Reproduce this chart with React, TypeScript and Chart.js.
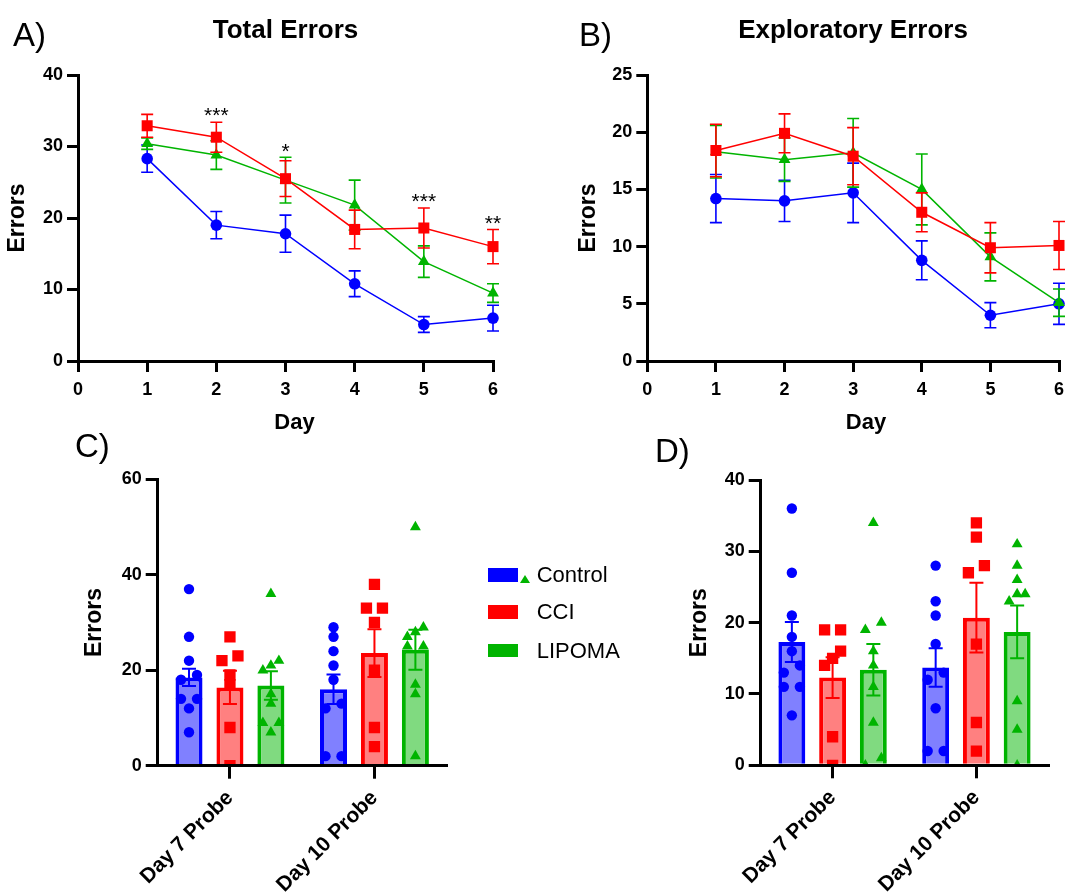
import React, { useEffect, useRef } from 'react';
import { Chart, registerables, PointElement } from 'chart.js';

Chart.register(...registerables);

const FONT = "'Liberation Sans', Arial, Helvetica, sans-serif";
Chart.defaults.font.family = FONT;
Chart.defaults.color = '#000';

// ---------------- data ----------------
const groupNames = ['Control', 'CCI', 'LIPOMA'];
const days = [1, 2, 3, 4, 5, 6];

// A) Total errors (mean, SEM)
const totalControl = [28.3, 19.0, 17.8, 10.8, 5.1, 6.0];
const totalControlSem = [1.9, 1.9, 2.6, 1.8, 1.1, 1.8];
const totalCCI = [32.9, 31.3, 25.5, 18.4, 18.6, 16.0];
const totalCCISem = [1.6, 2.1, 2.5, 2.7, 2.8, 2.4];
const totalLipoma = [30.4, 28.8, 25.3, 21.8, 13.9, 9.5];
const totalLipomaSem = [0.8, 2.0, 3.2, 3.5, 2.2, 1.3];
const totalSig = ['', '***', '*', '', '***', '**'];

// B) Exploratory errors (mean, SEM)
const explControl = [14.2, 14.0, 14.7, 8.8, 4.0, 5.0];
const explControlSem = [2.1, 1.8, 2.6, 1.7, 1.1, 1.8];
const explCCI = [18.4, 19.9, 17.9, 13.0, 9.9, 10.1];
const explCCISem = [2.3, 1.7, 2.5, 1.7, 2.2, 2.1];
const explLipoma = [18.3, 17.6, 18.2, 15.0, 9.1, 5.1];
const explLipomaSem = [2.3, 1.9, 3.0, 3.1, 2.1, 1.2];

// C / D) probe trials
const probeLabels = ['Day 7 Probe', 'Day 10 Probe'];

const cMeanControl = [18.5, 16.0];
const cSemControl = [1.8, 3.1];
const cMeanCCI = [16.4, 23.6];
const cSemCCI = [3.5, 5.0];
const cMeanLipoma = [16.8, 24.3];
const cSemLipoma = [3.0, 4.2];
const c7Control = [37, 27, 22, 19, 18, 14, 14, 12, 7];
const c7CCI = [27, 23, 22, 19, 17, 8, 0];
const c7Lipoma = [36, 22, 21, 20, 15, 13, 9, 9, 7];
const c10Control = [29, 27, 24, 21, 18, 13, 12, 2, 2];
const c10CCI = [38, 33, 33, 30, 20, 8, 4];
const c10Lipoma = [50, 29, 28, 27, 25, 25, 17, 15, 2];

const dMeanControl = [17.3, 13.7];
const dSemControl = [2.8, 2.7];
const dMeanCCI = [12.3, 20.7];
const dSemCCI = [2.85, 4.9];
const dMeanLipoma = [13.4, 18.7];
const dSemLipoma = [3.6, 3.7];
const d7Control = [36, 27, 21, 18, 16, 14, 13, 11, 11, 7];
const d7CCI = [19, 19, 16, 15, 14, 4, 0];
const d7Lipoma = [34, 20, 19, 16, 14, 11, 6, 1, 0];
const d10Control = [28, 23, 21, 17, 13, 12, 8, 2, 2];
const d10CCI = [34, 32, 28, 27, 17, 6, 2];
const d10Lipoma = [31, 28, 26, 24, 24, 23, 9, 5, 0];

// ---------------- styles ----------------
const BLUE = '#0000FF';
const RED = '#FF0000';
const GREEN = '#00B400';
const COLORS = [BLUE, RED, GREEN];
const FILLS = ['#8080FF', '#FF8080', '#80DA80'];
const STYLES = ['circle', 'rect', 'triangle'];
const LINE_RADII = [5.8, 7.8, 6.8];
const DOT_RADII = [5.2, 8, 6.3];
const CAT_PCT = 0.85;
const BAR_PCT = 0.66;
const SPREAD_PX = 8;

// ---------------- plugins ----------------
function drawErr(chart: any, meta: any, ds: any) {
  const yScale = chart.scales[meta.yAxisID];
  const ctx = chart.ctx;
  ctx.save();
  ctx.strokeStyle = ds.errColor;
  ctx.lineWidth = ds.errWidth;
  meta.data.forEach((el: any, i: number) => {
    const m = ds.errMeans[i];
    const s = ds.errSem[i];
    if (m == null || s == null) return;
    const x = el.x;
    const yt = yScale.getPixelForValue(m + s);
    const yb = yScale.getPixelForValue(m - s);
    const c = ds.errCap;
    ctx.beginPath();
    ctx.moveTo(x, yt);
    ctx.lineTo(x, yb);
    ctx.moveTo(x - c, yt);
    ctx.lineTo(x + c, yt);
    ctx.moveTo(x - c, yb);
    ctx.lineTo(x + c, yb);
    ctx.stroke();
  });
  ctx.restore();
}

const errorBarPlugin = {
  id: 'errorBars',
  beforeDatasetDraw(chart: any, args: any) {
    const ds = chart.data.datasets[args.index];
    if (ds.errMeans && ds.errBefore) drawErr(chart, args.meta, ds);
  },
  afterDatasetDraw(chart: any, args: any) {
    const ds = chart.data.datasets[args.index];
    if (ds.errMeans && !ds.errBefore) drawErr(chart, args.meta, ds);
  },
};

function swarm(values: number[], tol: number, half: number): number[] {
  const idx = values.map((_, i) => i).sort((a, b) => values[a] - values[b]);
  const offs = new Array(values.length).fill(0);
  let start = 0;
  for (let k = 1; k <= idx.length; k++) {
    if (k === idx.length || values[idx[k]] - values[idx[k - 1]] > tol) {
      const n = k - start;
      for (let m = 0; m < n; m++) offs[idx[start + m]] = n === 1 ? 0 : -half + (2 * half * m) / (n - 1);
      start = k;
    }
  }
  return offs;
}

// individual animals: drawn as Chart.js PointElements on each bar, via the y scale
const dotsPlugin = {
  id: 'dots',
  afterDatasetsDraw(chart: any) {
    const ctx = chart.ctx;
    const area = chart.chartArea;
    ctx.save();
    ctx.beginPath();
    ctx.rect(area.left, area.top - 20, area.right - area.left + 20, area.bottom - area.top + 20);
    ctx.clip();
    chart.data.datasets.forEach((ds: any, di: number) => {
      if (!ds.dots) return;
      const meta = chart.getDatasetMeta(di);
      const yScale = chart.scales[meta.yAxisID];
      ds.dots.forEach((vals: number[], ci: number) => {
        const bar = meta.data[ci];
        if (!bar) return;
        const offs = swarm(vals, ds.dotTol, SPREAD_PX);
        vals.forEach((v, k) => {
          const pt: any = new PointElement({});
          pt.x = bar.x + offs[k];
          pt.y = yScale.getPixelForValue(v);
          pt.options = {
            pointStyle: ds.dotStyle,
            radius: ds.dotRadius,
            backgroundColor: ds.borderColor,
            borderColor: ds.borderColor,
            borderWidth: 0,
            rotation: 0,
          };
          pt.draw(ctx, {
            left: area.left - 50,
            right: area.right + 50,
            top: area.top - 50,
            bottom: area.bottom + 50,
          });
        });
      });
    });
    ctx.restore();
  },
};

function makeSigPlugin(labels: string[]) {
  return {
    id: 'sigStars',
    afterDatasetsDraw(chart: any) {
      const ctx = chart.ctx;
      const xs = chart.scales.x;
      const ys = chart.scales.y;
      const fs = 21;
      ctx.save();
      ctx.fillStyle = '#000';
      ctx.font = `${fs}px ${FONT}`;
      ctx.textAlign = 'center';
      ctx.textBaseline = 'alphabetic';
      labels.forEach((lab, i) => {
        if (!lab) return;
        let top = Infinity;
        chart.data.datasets.forEach((ds: any) => {
          if (ds.errMeans) top = Math.min(top, ys.getPixelForValue(ds.errMeans[i] + ds.errSem[i]));
        });
        const x = xs.getPixelForValue(days[i]);
        ctx.fillText(lab, x, top - 12 + 0.585 * fs);
      });
      ctx.restore();
    },
  };
}

// ---------------- axis helpers ----------------
const tickGrid = (len: number) => ({
  display: true,
  drawOnChartArea: false,
  drawTicks: true,
  tickLength: len,
  tickWidth: 3,
  tickColor: '#000',
  color: '#000',
  lineWidth: 3,
});
const axisBorder = { display: true, color: '#000', width: 3, z: 1 };

function yAxis(max: number, step: number, width: number, tickLen: number, pad: number) {
  return {
    type: 'linear',
    position: 'left',
    min: 0,
    max,
    ticks: { stepSize: step, font: { family: FONT, size: 18, weight: 'bold' }, color: '#000', padding: pad },
    grid: tickGrid(tickLen),
    border: axisBorder,
    title: { display: true, text: 'Errors', font: { family: FONT, size: 23, weight: 'bold' }, color: '#000', padding: 0 },
    afterFit: (s: any) => {
      s.width = width;
      s.paddingTop = 0;
      s.paddingBottom = 0;
    },
  };
}

function dayAxis(height: number) {
  return {
    type: 'linear',
    position: 'bottom',
    min: 0,
    max: 6,
    ticks: { stepSize: 1, font: { family: FONT, size: 18, weight: 'bold' }, color: '#000', padding: 7 },
    grid: tickGrid(11),
    border: { ...axisBorder, z: 0 },
    afterFit: (s: any) => {
      s.height = height;
      s.paddingLeft = 0;
      s.paddingRight = 0;
    },
  };
}

function lineSeries(gi: number, means: number[], sems: number[], order: number) {
  return {
    label: groupNames[gi],
    data: days.map((d, i) => ({ x: d, y: means[i] })),
    showLine: true,
    borderColor: COLORS[gi],
    backgroundColor: COLORS[gi],
    borderWidth: 1.5,
    pointStyle: STYLES[gi],
    pointRadius: LINE_RADII[gi],
    pointHoverRadius: LINE_RADII[gi],
    pointBorderWidth: 0,
    clip: false,
    order,
    errMeans: means,
    errSem: sems,
    errColor: COLORS[gi],
    errWidth: 1.6,
    errCap: 6,
    errBefore: true,
  };
}

function lineConfig(series: any[], yMax: number, yStep: number, yWidth: number, pad: any, sig: string[] | null) {
  const yA: any = yAxis(yMax, yStep, yWidth, 11, 4);
  yA.border = { ...axisBorder, z: 0 };
  return {
    type: 'scatter',
    data: { datasets: series },
    options: {
      responsive: false,
      animation: false,
      events: [],
      layout: { padding: pad, autoPadding: false },
      plugins: { legend: { display: false }, tooltip: { enabled: false } },
      scales: { x: dayAxis(74.5), y: yA },
    },
    plugins: sig ? [errorBarPlugin, makeSigPlugin(sig)] : [errorBarPlugin],
  };
}

function barSeries(gi: number, means: number[], sems: number[], dots: number[][], tol: number) {
  return {
    label: groupNames[gi],
    data: means,
    backgroundColor: FILLS[gi],
    borderColor: COLORS[gi],
    borderWidth: 4,
    borderSkipped: 'start',
    categoryPercentage: CAT_PCT,
    barPercentage: BAR_PCT,
    errMeans: means,
    errSem: sems,
    errColor: COLORS[gi],
    errWidth: 2,
    errCap: 7,
    errBefore: false,
    dots,
    dotTol: tol,
    dotStyle: STYLES[gi],
    dotRadius: DOT_RADII[gi],
  };
}

function barConfig(bars: any[], yMax: number, yStep: number, yWidth: number, pad: any) {
  return {
    type: 'bar',
    data: { labels: probeLabels, datasets: bars },
    options: {
      responsive: false,
      animation: false,
      events: [],
      layout: { padding: pad, autoPadding: false },
      plugins: { legend: { display: false }, tooltip: { enabled: false } },
      scales: {
        x: {
          type: 'category',
          position: 'bottom',
          offset: true,
          ticks: {
            font: { family: FONT, size: 21, weight: 'bold' },
            color: '#000',
            minRotation: 45,
            maxRotation: 45,
            autoSkip: false,
            padding: 7,
          },
          grid: { ...tickGrid(13), offset: false },
          border: axisBorder,
          afterFit: (s: any) => {
            s.height = 170;
            s.paddingLeft = 0;
            s.paddingRight = 0;
          },
        },
        y: yAxis(yMax, yStep, yWidth, 12, 4),
      },
    },
    plugins: [errorBarPlugin, dotsPlugin],
  };
}

// ---------------- components ----------------
function ChartCanvas({ left, top, width, height, make }: any) {
  const ref = useRef<HTMLCanvasElement>(null);
  useEffect(() => {
    const chart = new Chart(ref.current as HTMLCanvasElement, make());
    return () => chart.destroy();
  }, []);
  return (
    <canvas
      ref={ref}
      width={width}
      height={height}
      style={{ position: 'absolute', left, top, width, height }}
    />
  );
}

function Txt({ x, baseline, size, bold, children, center }: any) {
  const lineTop = baseline - 0.8465 * size;
  const style: any = {
    position: 'absolute',
    top: lineTop,
    fontFamily: FONT,
    fontSize: size,
    lineHeight: `${size}px`,
    fontWeight: bold ? 'bold' : 'normal',
    whiteSpace: 'nowrap',
    color: '#000',
  };
  if (center) {
    style.left = x - 200;
    style.width = 400;
    style.textAlign = 'center';
  } else {
    style.left = x;
  }
  return <div style={style}>{children}</div>;
}

const legendRows = [575, 612, 650.5];

export default function App() {
  const makeA = () =>
    lineConfig(
      [
        lineSeries(0, totalControl, totalControlSem, 2),
        lineSeries(1, totalCCI, totalCCISem, 0),
        lineSeries(2, totalLipoma, totalLipomaSem, 1),
      ],
      40, 10, 74,
      { left: 4, top: 75, right: 52, bottom: 4.5 },
      totalSig
    );
  const makeB = () =>
    lineConfig(
      [
        lineSeries(0, explControl, explControlSem, 2),
        lineSeries(1, explCCI, explCCISem, 0),
        lineSeries(2, explLipoma, explLipomaSem, 1),
      ],
      25, 5, 72.3,
      { left: 15, top: 75, right: 61, bottom: 4.5 },
      null
    );
  const makeC = () =>
    barConfig(
      [
        barSeries(0, cMeanControl, cSemControl, [c7Control, c10Control], 1.1),
        barSeries(1, cMeanCCI, cSemCCI, [c7CCI, c10CCI], 1.1),
        barSeries(2, cMeanLipoma, cSemLipoma, [c7Lipoma, c10Lipoma], 1.1),
      ],
      60, 20, 76.7,
      { left: 21, top: 59.3, right: 43.3, bottom: 4.3 }
    );
  const makeD = () =>
    barConfig(
      [
        barSeries(0, dMeanControl, dSemControl, [d7Control, d10Control], 1.1),
        barSeries(1, dMeanCCI, dSemCCI, [d7CCI, d10CCI], 1.1),
        barSeries(2, dMeanLipoma, dSemLipoma, [d7Lipoma, d10Lipoma], 1.1),
      ],
      40, 10, 74.7,
      { left: 46, top: 60, right: 37.7, bottom: 4.7 }
    );

  return (
    <div
      style={{
        position: 'fixed',
        left: 0,
        top: 0,
        width: 1086,
        height: 892,
        overflow: 'hidden',
        background: '#fff',
      }}
    >
      <ChartCanvas left={0} top={0} width={545} height={440} make={makeA} />
      <ChartCanvas left={560} top={0} width={560} height={440} make={makeB} />
      <ChartCanvas left={60} top={420} width={430} height={520} make={makeC} />
      <ChartCanvas left={640} top={420} width={446} height={520} make={makeD} />

      <Txt x={13} baseline={45.7} size={33}>A)</Txt>
      <Txt x={579} baseline={46} size={33}>B)</Txt>
      <Txt x={75} baseline={457.3} size={33}>C)</Txt>
      <Txt x={655} baseline={461.7} size={33}>D)</Txt>

      <Txt x={285.5} baseline={38.5} size={26} bold center>Total Errors</Txt>
      <Txt x={853} baseline={38.5} size={26} bold center>Exploratory Errors</Txt>
      <Txt x={294.5} baseline={430} size={22} bold center>Day</Txt>
      <Txt x={866} baseline={430} size={22} bold center>Day</Txt>

      {groupNames.map((g, i) => (
        <React.Fragment key={g}>
          <div
            style={{
              position: 'absolute',
              left: 488,
              top: legendRows[i] - 6.7,
              width: 30,
              height: 13.4,
              background: COLORS[i],
            }}
          />
          <Txt x={536.7} baseline={legendRows[i] + 7.9} size={22}>{g}</Txt>
        </React.Fragment>
      ))}
      <div
        style={{
          position: 'absolute',
          left: 519.5,
          top: 575,
          width: 0,
          height: 0,
          borderLeft: '5.3px solid transparent',
          borderRight: '5.3px solid transparent',
          borderBottom: `8px solid ${GREEN}`,
        }}
      />
    </div>
  );
}
